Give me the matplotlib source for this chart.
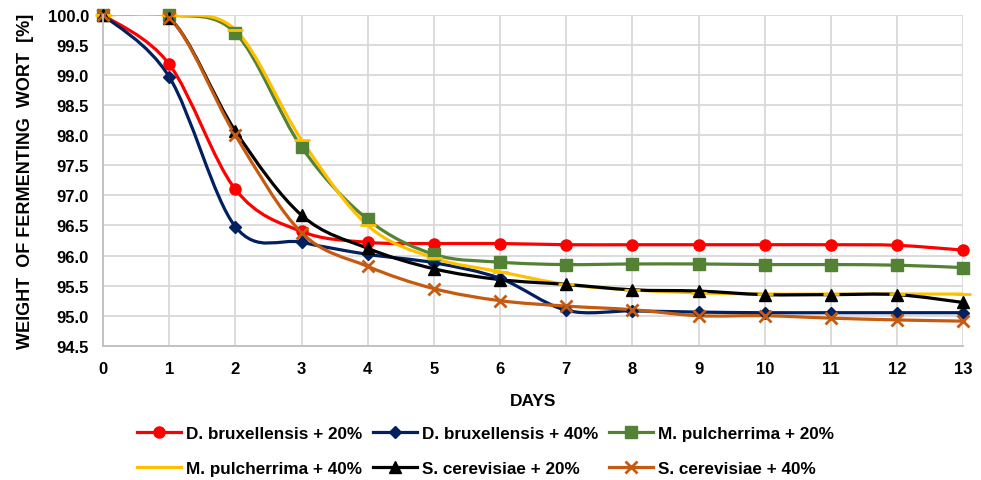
import numpy as np
import matplotlib.pyplot as plt
from matplotlib.path import Path
from matplotlib.patches import PathPatch
from matplotlib.lines import Line2D

plt.rcParams['font.family'] = ['Liberation Sans Narrow', 'Liberation Sans', 'DejaVu Sans']
plt.rcParams['font.weight'] = 'bold'

days = list(range(14))

brux_20 = [100.0, 99.18, 97.1, 96.4, 96.22, 96.2, 96.2, 96.18, 96.18, 96.18, 96.18, 96.18, 96.17, 96.09]
brux_40 = [100.0, 98.97, 96.48, 96.22, 96.02, 95.88, 95.62, 95.09, 95.08, 95.06, 95.05, 95.05, 95.05, 95.05]
pulch_20 = [100.0, 100.0, 99.7, 97.8, 96.6, 96.02, 95.89, 95.85, 95.86, 95.86, 95.85, 95.85, 95.84, 95.8]
pulch_40 = [100.0, 100.0, 99.75, 97.92, 96.5, 95.96, 95.73, 95.52, 95.43, 95.38, 95.36, 95.36, 95.36, 95.36]
cerev_20 = [100.0, 99.95, 98.07, 96.67, 96.12, 95.78, 95.6, 95.52, 95.43, 95.41, 95.35, 95.35, 95.35, 95.22]
cerev_40 = [100.0, 99.95, 98.0, 96.38, 95.82, 95.45, 95.25, 95.16, 95.1, 95.0, 95.0, 94.96, 94.93, 94.91]

series = [
    ("D. bruxellensis + 20%", brux_20, "#ff0000", "o", 8),
    ("D. bruxellensis + 40%", brux_40, "#002060", "D", 6),
    ("M. pulcherrima + 20%", pulch_20, "#548235", "s", 8),
    ("M. pulcherrima + 40%", pulch_40, "#ffc000", "_", 12),
    ("S. cerevisiae + 20%", cerev_20, "#000000", "^", 8),
    ("S. cerevisiae + 40%", cerev_40, "#c55a11", "x", 8),
]


def smooth_path(x, y):
    # Excel-style smoothed line: cubic bezier through the points
    p = np.column_stack([x, y]).astype(float)
    ext = np.vstack([p[0], p, p[-1]])
    verts = [p[0]]
    codes = [Path.MOVETO]
    for i in range(len(p) - 1):
        p0, p1, p2, p3 = ext[i], ext[i + 1], ext[i + 2], ext[i + 3]
        c1 = p1 + (p2 - p0) / 6
        c2 = p2 - (p3 - p1) / 6
        verts += [c1, c2, p2]
        codes += [Path.CURVE4] * 3
    return Path(verts, codes)


fig = plt.figure(figsize=(9.81, 4.81), dpi=100)
ax = fig.add_axes([0.105, 0.279, 0.877, 0.688])

handles = []
for label, vals, color, marker, ms in series:
    ax.add_patch(PathPatch(smooth_path(days, vals), fill=False, edgecolor=color, lw=2.3))
    mew = 2 if marker in ("x", "_") else 1
    ax.plot(days, vals, ls="none", marker=marker, ms=ms, color=color, mew=mew, clip_on=False)
    handles.append(Line2D([], [], color=color, lw=2.3, marker=marker, ms=ms, mew=mew))

ax.set_xlim(0, 13)
ax.set_ylim(94.5, 100)
ax.set_xticks(days)
ax.set_yticks(np.arange(94.5, 100.01, 0.5))
ax.yaxis.set_major_formatter(plt.FormatStrFormatter("%.1f"))
ax.grid(True, color="#d9d9d9", lw=1.3)
ax.set_axisbelow(True)
for s in ["top", "right"]:
    ax.spines[s].set_visible(False)
for s in ["left", "bottom"]:
    ax.spines[s].set_color("#bfbfbf")
    ax.spines[s].set_linewidth(1.3)
ax.tick_params(length=0, labelsize=12)
ax.tick_params(axis="x", pad=11)
ax.tick_params(axis="y", pad=10)

ax.set_xlabel("DAYS", fontsize=12.5, fontweight="bold", labelpad=12)
ax.set_ylabel("WEIGHT  OF FERMENTING  WORT  [%]", fontsize=13, fontweight="bold", labelpad=10)

order = [0, 3, 1, 4, 2, 5]
fig.legend([handles[i] for i in order], [series[i][0] for i in order],
           ncol=3, loc="center", bbox_to_anchor=(0.495, 0.06), frameon=False,
           fontsize=12.3, handlelength=2.6, handletextpad=0.3, columnspacing=0.6,
           labelspacing=1.2)

fig.savefig("out.png", dpi=100)
